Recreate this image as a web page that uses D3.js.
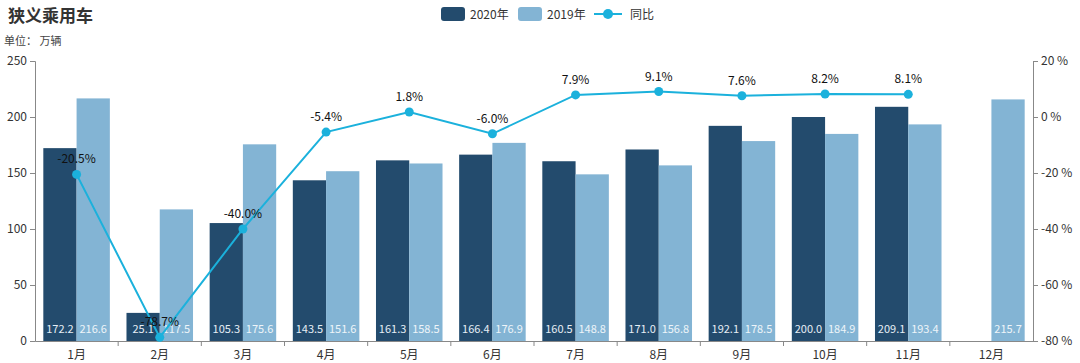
<!DOCTYPE html>
<html>
<head>
<meta charset="utf-8">
<script src="https://cdn.jsdelivr.net/npm/d3@7"></script>
<style>
  body { margin: 0; background: #fff; }
  text { font-family: "Noto Sans CJK SC", "Liberation Sans", sans-serif; }
</style>
</head>
<body>
<script>
// Chart data
var months = ["1月", "2月", "3月", "4月", "5月", "6月", "7月", "8月", "9月", "10月", "11月", "12月"];
var sales2020 = [172.2, 25.1, 105.3, 143.5, 161.3, 166.4, 160.5, 171.0, 192.1, 200.0, 209.1, null];
var sales2019 = [216.6, 117.5, 175.6, 151.6, 158.5, 176.9, 148.8, 156.8, 178.5, 184.9, 193.4, 215.7];
var yoy = [-20.5, -78.7, -40.0, -5.4, 1.8, -6.0, 7.9, 9.1, 7.6, 8.2, 8.1, null];
var leftTicks = [0, 50, 100, 150, 200, 250];
var rightTicks = [-80, -60, -40, -20, 0, 20];

var width = 1080, height = 363;
var margin = { left: 35, right: 47, top: 61, bottom: 22 };
var dark = "#234b6d", light = "#83b4d4", lineColor = "#1bb1dc";

var svg = d3.select("body").append("svg")
    .attr("width", width)
    .attr("height", height);

// Scales
var x = d3.scaleBand()
    .domain(months)
    .range([margin.left, width - margin.right])
    .paddingInner(0.2)
    .paddingOuter(0.1);
var xOuter = d3.scaleBand()
    .domain(months)
    .range([margin.left, width - margin.right]);
var yL = d3.scaleLinear().domain([0, 250]).range([height - margin.bottom, margin.top]);
var yR = d3.scaleLinear().domain([-80, 20]).range([height - margin.bottom, margin.top]);
var barW = xOuter.bandwidth() * 0.4;

// Title
svg.append("text").attr("x", 8).attr("y", 22)
    .attr("font-size", 17).attr("font-weight", "bold").attr("fill", "#333")
    .text("狭义乘用车");
svg.append("text").attr("x", 4).attr("y", 45)
    .attr("font-size", 11).attr("fill", "#444")
    .text("单位：  万辆");

// Axes
var axisColor = "#888";
var gL = svg.append("g").attr("transform", "translate(" + margin.left + ",0)")
    .call(d3.axisLeft(yL).tickValues(leftTicks).tickSize(5).tickPadding(3));
var gR = svg.append("g").attr("transform", "translate(" + (width - margin.right) + ",0)")
    .call(d3.axisRight(yR).tickValues(rightTicks).tickSize(5).tickPadding(3)
        .tickFormat(function (d) { return d + " %"; }));
var gX = svg.append("g").attr("transform", "translate(0," + (height - margin.bottom) + ")")
    .call(d3.axisBottom(xOuter).tickSize(0).tickPadding(9));

// Tick marks on the x axis sit on band boundaries
gX.selectAll(".bnd")
    .data(months.slice(1))
    .enter().append("line")
    .attr("x1", function (d) { return xOuter(d); })
    .attr("x2", function (d) { return xOuter(d); })
    .attr("y1", 0).attr("y2", 5)
    .attr("stroke", axisColor);

[gL, gR, gX].forEach(function (g) {
    g.selectAll("path, line").attr("stroke", axisColor);
    g.selectAll("text").attr("font-size", 12).attr("fill", "#333")
        .attr("font-family", "'Liberation Sans', 'Noto Sans CJK SC', sans-serif");
});
gX.selectAll("text").attr("font-family", "'Noto Sans CJK SC', sans-serif");

// Bars
var groups = svg.selectAll(".month")
    .data(months)
    .enter().append("g");

groups.append("rect")
    .filter(function (d, i) { return sales2020[i] != null; })
    .attr("x", function (d) { return xOuter(d) + xOuter.bandwidth() / 2 - barW; })
    .attr("y", function (d, i) { return yL(sales2020[i]); })
    .attr("width", barW)
    .attr("height", function (d, i) { return yL(0) - yL(sales2020[i]); })
    .attr("fill", dark);

groups.append("rect")
    .attr("x", function (d) { return xOuter(d) + xOuter.bandwidth() / 2; })
    .attr("y", function (d, i) { return yL(sales2019[i]); })
    .attr("width", barW)
    .attr("height", function (d, i) { return yL(0) - yL(sales2019[i]); })
    .attr("fill", light);

// Bar value labels at the bottom of each bar
groups.append("text")
    .filter(function (d, i) { return sales2020[i] != null; })
    .attr("x", function (d) { return xOuter(d) + xOuter.bandwidth() / 2 - barW / 2; })
    .attr("y", yL(0) - 8)
    .attr("text-anchor", "middle")
    .attr("font-size", 11).attr("fill", "#e6eef5")
    .attr("font-family", "'Liberation Sans', sans-serif")
    .text(function (d, i) { return sales2020[i].toFixed(1); });

groups.append("text")
    .attr("x", function (d) { return xOuter(d) + xOuter.bandwidth() / 2 + barW / 2; })
    .attr("y", yL(0) - 8)
    .attr("text-anchor", "middle")
    .attr("font-size", 11).attr("fill", "#eef4f9")
    .attr("font-family", "'Liberation Sans', sans-serif")
    .text(function (d, i) { return sales2019[i].toFixed(1); });

// YoY line
var pts = months.map(function (m, i) { return { m: m, v: yoy[i] }; })
    .filter(function (d) { return d.v != null; });
var cx = function (d) { return xOuter(d.m) + xOuter.bandwidth() / 2; };

svg.append("path")
    .datum(pts)
    .attr("fill", "none")
    .attr("stroke", lineColor)
    .attr("stroke-width", 2)
    .attr("d", d3.line().x(cx).y(function (d) { return yR(d.v); }));

svg.selectAll(".dot")
    .data(pts)
    .enter().append("circle")
    .attr("cx", cx)
    .attr("cy", function (d) { return yR(d.v); })
    .attr("r", 4.5)
    .attr("fill", lineColor);

svg.selectAll(".yoyLabel")
    .data(pts)
    .enter().append("text")
    .attr("x", cx)
    .attr("y", function (d) { return yR(d.v) - 11; })
    .attr("text-anchor", "middle")
    .attr("font-size", 12).attr("fill", "#111")
    .attr("font-family", "'Liberation Sans', sans-serif")
    .text(function (d) { return d.v.toFixed(1) + "%"; });

// Legend
var legend = svg.append("g").attr("transform", "translate(441,14)");
legend.append("rect").attr("x", 0).attr("y", -7).attr("width", 24).attr("height", 14)
    .attr("rx", 3).attr("fill", dark);
legend.append("text").attr("x", 29).attr("y", 4.5).attr("font-size", 12).attr("fill", "#333")
    .text("2020年");
legend.append("rect").attr("x", 77).attr("y", -7).attr("width", 24).attr("height", 14)
    .attr("rx", 3).attr("fill", light);
legend.append("text").attr("x", 106).attr("y", 4.5).attr("font-size", 12).attr("fill", "#333")
    .text("2019年");
legend.append("line").attr("x1", 153).attr("x2", 181).attr("y1", 0).attr("y2", 0)
    .attr("stroke", lineColor).attr("stroke-width", 2);
legend.append("circle").attr("cx", 167).attr("cy", 0).attr("r", 5).attr("fill", lineColor);
legend.append("text").attr("x", 189).attr("y", 4.5).attr("font-size", 12).attr("fill", "#333")
    .text("同比");
</script>
</body>
</html>
